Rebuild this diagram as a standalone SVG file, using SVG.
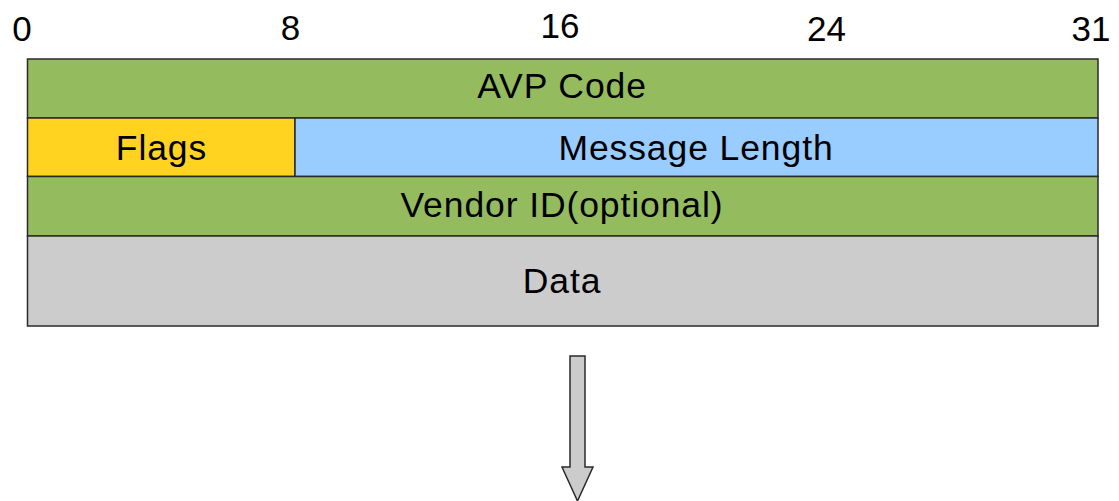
<svg xmlns="http://www.w3.org/2000/svg" width="1119" height="501" viewBox="0 0 1119 501">
<style>
.f{stroke:#2a2a2a;stroke-width:1.5}
.t{font-family:"Liberation Sans",Arial,sans-serif;font-size:35.5px;letter-spacing:0.9px;fill:#000;text-anchor:middle}
.n{font-family:"Liberation Sans",Arial,sans-serif;font-size:35px;fill:#000;text-anchor:middle}
</style>
<rect width="1119" height="501" fill="#fff"/>
<g id="scale">
<text class="n" x="22" y="41">0</text>
<text class="n" x="290.5" y="40">8</text>
<text class="n" x="560" y="38">16</text>
<text class="n" x="826.5" y="41">24</text>
<text class="n" x="1091" y="41">31</text>
</g>
<g id="avp-code">
<rect class="f" x="27.5" y="59" width="1070.5" height="59" fill="#94bc5e"/>
<text class="t" x="562" y="98">AVP Code</text>
</g>
<g id="flags">
<rect class="f" x="27.5" y="118" width="267.5" height="58.5" fill="#ffd320"/>
<text class="t" x="161.5" y="160">Flags</text>
</g>
<g id="message-length">
<rect class="f" x="295" y="118" width="803" height="58.5" fill="#99ccff"/>
<text class="t" x="696" y="160">Message Length</text>
</g>
<g id="vendor-id">
<rect class="f" x="27.5" y="176.5" width="1070.5" height="59.5" fill="#94bc5e"/>
<text class="t" x="562" y="217">Vendor ID(optional)</text>
</g>
<g id="data">
<rect class="f" x="27.5" y="236" width="1070.5" height="90" fill="#cccccc"/>
<text class="t" x="562" y="293">Data</text>
</g>
<g id="connectors">
<path class="f" d="M570,356 H585 V467 H593 L577.5,501 L562,467 H570 Z" fill="#cccccc"/>
</g>
</svg>
